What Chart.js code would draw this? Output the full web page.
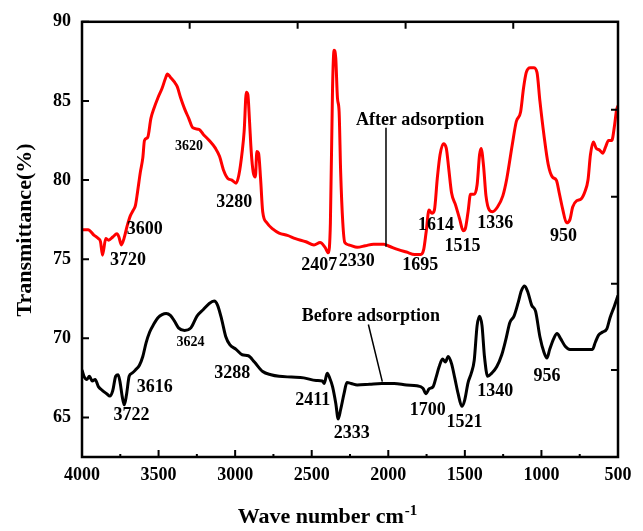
<!DOCTYPE html>
<html>
<head>
<meta charset="utf-8">
<script src="https://cdn.jsdelivr.net/npm/chart.js@4.4.1/dist/chart.umd.min.js"></script>
<style>
  html, body { margin: 0; padding: 0; background: #fff; }
</style>
</head>
<body>
<canvas id="ftirChart" width="643" height="531"></canvas>
<script>
// wavenumbers (cm-1) and transmittance (%)
const redWave = [4000,3960,3920,3893,3879,3866,3845,3826,3799,3772,3759,3743,3726,3705,3684,3665,3651,3638,3619,3603,3592,3571,3550,3531,3504,3477,3456,3442,3423,3397,3378,3356,3330,3303,3276,3236,3209,3169,3128,3102,3075,3048,3021,2994,2976,2954,2941,2927,2917,2906,2895,2882,2868,2858,2847,2834,2820,2793,2753,2713,2659,2606,2538,2485,2445,2413,2391,2378,2364,2354,2343,2332,2321,2311,2297,2284,2257,2203,2150,2096,2029,1989,1935,1881,1828,1788,1769,1753,1734,1715,1699,1680,1662,1640,1621,1605,1587,1560,1533,1511,1498,1479,1463,1439,1420,1404,1394,1378,1362,1340,1319,1287,1252,1226,1191,1164,1136,1117,1099,1072,1051,1029,1010,983,956,929,902,884,862,836,814,796,769,742,715,696,680,661,642,621,600,581,562,541,522,510,500];
const redT = [76.86,76.86,76.5,76.3,76.1,75.25,76.3,76.2,76.4,76.6,76.4,75.9,76.3,77.1,77.75,78.1,78.4,79.2,80.5,81.4,82.5,82.7,83.9,84.5,85.2,85.8,86.4,86.7,86.5,86.2,85.9,85.2,84.5,83.9,83.3,83.2,82.9,82.5,82.0,81.5,80.6,80.1,80.0,79.8,80.3,81.8,83.1,85.55,85.4,83.7,81.8,80.5,80.2,81.8,81.7,80.1,78.0,77.3,76.9,76.65,76.5,76.3,76.1,75.9,76.05,75.75,75.4,77.3,85.8,88.2,87.7,85.2,84.3,80.5,77.3,76.05,75.9,75.75,75.85,75.95,75.95,75.8,75.6,75.45,75.3,75.3,75.6,76.7,78.1,77.9,78.1,80.1,81.6,82.3,82.0,80.7,79.2,78.4,77.5,76.8,76.9,78.0,79.1,79.1,79.7,81.6,82.0,80.9,79.0,78.1,78.0,78.3,79.0,80.1,82.2,83.7,84.3,85.8,86.8,87.1,87.1,86.8,85.0,82.8,81.0,80.2,79.98,79.2,78.2,77.3,77.5,78.3,78.7,78.8,79.3,80.0,81.6,82.4,82.0,81.9,81.7,82.1,82.5,82.5,83.5,84.4,84.7];

const blackWave = [4000,3987,3968,3952,3933,3914,3893,3866,3839,3818,3799,3780,3764,3751,3737,3724,3710,3692,3673,3651,3625,3603,3582,3558,3531,3504,3477,3450,3423,3397,3370,3330,3289,3249,3209,3169,3137,3115,3088,3061,3035,2994,2954,2914,2874,2820,2766,2713,2632,2552,2471,2431,2418,2399,2383,2364,2343,2327,2311,2289,2270,2243,2203,2123,2042,1962,1881,1814,1774,1753,1734,1707,1689,1668,1646,1627,1609,1587,1566,1544,1520,1501,1479,1458,1439,1420,1404,1388,1372,1351,1324,1292,1259,1233,1206,1179,1152,1131,1110,1088,1064,1038,1010,983,964,946,919,898,876,845,814,761,707,667,648,627,600,573,552,525,500];
const blackT = [68.0,67.6,67.4,67.6,67.3,67.4,66.95,66.7,66.5,66.35,66.7,67.6,67.7,67.2,66.3,65.8,66.4,67.6,67.8,68.0,68.3,68.85,69.7,70.4,70.9,71.3,71.5,71.57,71.45,71.1,70.66,70.5,70.66,71.4,71.8,72.2,72.35,72.1,71.2,70.1,69.6,69.3,68.96,68.9,68.5,67.9,67.7,67.6,67.55,67.5,67.33,67.3,67.15,67.8,67.5,66.95,65.9,64.9,65.5,66.5,67.2,67.15,67.05,67.1,67.15,67.15,67.05,67.0,66.85,66.5,66.8,66.95,67.5,68.2,68.7,68.5,68.85,68.4,67.5,66.5,65.7,66.1,67.2,67.8,68.6,70.8,71.4,70.8,68.85,67.6,67.8,68.2,68.96,69.9,71.0,71.4,72.25,73.0,73.3,72.9,72.1,71.7,70.1,69.1,68.75,69.3,70.0,70.3,70.0,69.5,69.3,69.3,69.3,69.3,69.75,70.2,70.4,70.6,71.3,72.0,72.7];

// axis ticks
const xTickValues = [4000,3500,3000,2500,2000,1500,1000,500];
const xMinorTicks = [3750,3250,2750,2250,1750,1250,750];
const yTickValues = [65,70,75,80,85,90];
const topTicks = [3297,2592,1887,1184];
const rightTicks = [68.0,73.45,78.95,84.45];

// peak labels: text, wavenumber, transmittance
const redNotes = [
  ['3720',3699,74.94],['3600',3590,76.91],['3280',3006,78.6],['2407',2451,74.63],
  ['2330',2206,74.84],['1695',1792,74.59],['1614',1688,77.13],['1515',1516,75.78],
  ['1336',1302,77.24],['950',856,76.47]
];
const blackNotes = [
  ['3722',3677,65.11],['3616',3525,66.89],['3288',3019,67.77],['2411',2494,66.10],
  ['2333',2238,64.02],['1700',1742,65.43],['1521',1503,64.69],['1340',1302,66.62],
  ['956',964,67.62]
];
const smallNotes = [['3620',3302,82.11],['3624',3291,69.75]];
const seriesNotes = [['After adsorption',1792,83.78],['Before adsorption',2114,71.39]];
const pointers = [[2015,83.3,2015,75.78],[2130,70.87,2039,67.26]];

const serif = "'Liberation Serif', 'Times New Roman', serif";

function toPoints(xs, ys) {
  return xs.map((v, i) => ({ x: v, y: ys[i] }));
}

// frame, inward ticks, peak labels and axis titles
const ftirDecor = {
  id: 'ftirDecor',
  afterDatasetsDraw(chart) {
    const { ctx, chartArea: a, scales: { x, y } } = chart;
    ctx.save();
    ctx.strokeStyle = '#000';
    ctx.lineWidth = 2.5;
    ctx.strokeRect(a.left, a.top, a.right - a.left, a.bottom - a.top);

    ctx.lineWidth = 2;
    ctx.beginPath();
    xTickValues.forEach(v => {
      const px = x.getPixelForValue(v);
      ctx.moveTo(px, a.bottom); ctx.lineTo(px, a.bottom - 7);
    });
    xMinorTicks.forEach(v => {
      const px = x.getPixelForValue(v);
      ctx.moveTo(px, a.bottom); ctx.lineTo(px, a.bottom - 3);
    });
    topTicks.forEach(v => {
      const px = x.getPixelForValue(v);
      ctx.moveTo(px, a.top); ctx.lineTo(px, a.top + 7);
    });
    yTickValues.forEach(v => {
      const py = y.getPixelForValue(v);
      ctx.moveTo(a.left, py); ctx.lineTo(a.left + 7, py);
    });
    rightTicks.forEach(v => {
      const py = y.getPixelForValue(v);
      ctx.moveTo(a.right, py); ctx.lineTo(a.right - 7, py);
    });
    ctx.stroke();

    // pointer lines
    ctx.lineWidth = 1.5;
    ctx.beginPath();
    pointers.forEach(p => {
      ctx.moveTo(x.getPixelForValue(p[0]), y.getPixelForValue(p[1]));
      ctx.lineTo(x.getPixelForValue(p[2]), y.getPixelForValue(p[3]));
    });
    ctx.stroke();

    ctx.fillStyle = '#000';
    ctx.textAlign = 'center';
    ctx.textBaseline = 'middle';
    ctx.font = 'bold 18px ' + serif;
    redNotes.concat(blackNotes, seriesNotes).forEach(n => {
      ctx.fillText(n[0], x.getPixelForValue(n[1]), y.getPixelForValue(n[2]));
    });
    ctx.font = 'bold 14px ' + serif;
    smallNotes.forEach(n => {
      ctx.fillText(n[0], x.getPixelForValue(n[1]), y.getPixelForValue(n[2]));
    });
    ctx.restore();
  },
  afterDraw(chart) {
    const { ctx } = chart;
    ctx.save();
    ctx.fillStyle = '#000';
    // y title
    ctx.translate(25, 230);
    ctx.rotate(-Math.PI / 2);
    ctx.textAlign = 'center';
    ctx.textBaseline = 'middle';
    ctx.font = 'bold 22px ' + serif;
    ctx.fillText('Transmittance(%)', 0, 0);
    ctx.restore();

    // x title with superscript
    ctx.save();
    ctx.fillStyle = '#000';
    ctx.textBaseline = 'alphabetic';
    ctx.textAlign = 'left';
    const main = 'Wave number cm';
    const sup = '-1';
    ctx.font = 'bold 22px ' + serif;
    const wMain = ctx.measureText(main).width;
    ctx.font = 'bold 15px ' + serif;
    const wSup = ctx.measureText(sup).width;
    const startX = 327 - (wMain + wSup) / 2;
    ctx.font = 'bold 22px ' + serif;
    ctx.fillText(main, startX, 523);
    ctx.font = 'bold 15px ' + serif;
    ctx.fillText(sup, startX + wMain + 1, 515);
    ctx.restore();
  }
};

const tickFont = { family: serif, size: 18, weight: 'bold' };

new Chart(document.getElementById('ftirChart'), {
  type: 'line',
  data: {
    datasets: [
      {
        label: 'After adsorption',
        data: toPoints(redWave, redT),
        borderColor: '#ff0000',
        borderWidth: 3,
        pointRadius: 0,
        cubicInterpolationMode: 'monotone'
      },
      {
        label: 'Before adsorption',
        data: toPoints(blackWave, blackT),
        borderColor: '#000000',
        borderWidth: 3,
        pointRadius: 0,
        cubicInterpolationMode: 'monotone'
      }
    ]
  },
  options: {
    responsive: false,
    animation: false,
    layout: { padding: { top: 18, right: 25, bottom: 0, left: 0 } },
    plugins: {
      legend: { display: false },
      tooltip: { enabled: false }
    },
    scales: {
      x: {
        type: 'linear',
        reverse: true,
        min: 500,
        max: 4000,
        grid: { display: false, drawTicks: false },
        border: { display: false },
        afterBuildTicks: s => { s.ticks = xTickValues.map(v => ({ value: v })); },
        afterFit: s => { s.height = 74; },
        ticks: {
          color: '#000', font: tickFont, padding: 8, maxRotation: 0, autoSkip: false,
          callback: v => String(v)
        }
      },
      y: {
        min: 62.5,
        max: 90,
        grid: { display: false, drawTicks: false },
        border: { display: false },
        afterBuildTicks: s => { s.ticks = yTickValues.map(v => ({ value: v })); },
        afterFit: s => { s.width = 82; },
        ticks: { color: '#000', font: tickFont, padding: 11, callback: v => String(v) }
      }
    }
  },
  plugins: [ftirDecor]
});
</script>
</body>
</html>
